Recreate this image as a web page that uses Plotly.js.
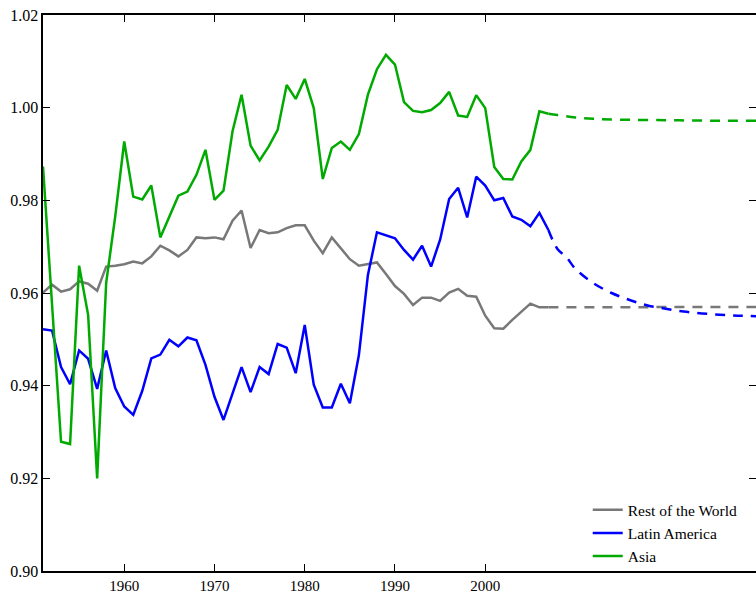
<!DOCTYPE html>
<html>
<head>
<meta charset="utf-8">
<script src="https://cdn.plot.ly/plotly-3.0.1.min.js"></script>
<style>html,body{margin:0;padding:0;background:#fff;}#chart{width:756px;height:592px;}</style>
</head>
<body>
<div id="chart"></div>
<script>
// Observed years 1951..2007
const years = [];
for (let y = 1951; y <= 2007; y++) years.push(y);

const restWorld = [
  0.9601, 0.9618, 0.9603, 0.9608, 0.9625, 0.9620, 0.9605, 0.9657, 0.9659, 0.9662,
  0.9668, 0.9664, 0.9679, 0.9702, 0.9692, 0.9679, 0.9693, 0.9720, 0.9718, 0.9720,
  0.9716, 0.9756, 0.9778, 0.9697, 0.9736, 0.9729, 0.9731, 0.9740, 0.9746, 0.9746,
  0.9713, 0.9686, 0.9720, 0.9697, 0.9673, 0.9659, 0.9663, 0.9666, 0.9641, 0.9615,
  0.9598, 0.9574, 0.9590, 0.9590, 0.9583, 0.9601, 0.9609, 0.9594, 0.9592, 0.9551,
  0.9524, 0.9523, 0.9542, 0.9559, 0.9577, 0.9569, 0.9569
];

const latinAmerica = [
  0.9522, 0.9519, 0.9440, 0.9403, 0.9476, 0.9458, 0.9393, 0.9476, 0.9395, 0.9355,
  0.9337, 0.9389, 0.9459, 0.9467, 0.9499, 0.9485, 0.9504, 0.9498, 0.9445, 0.9376,
  0.9326, 0.9383, 0.9440, 0.9386, 0.9440, 0.9425, 0.9490, 0.9482, 0.9427, 0.9531,
  0.9402, 0.9353, 0.9353, 0.9404, 0.9362, 0.9466, 0.9639, 0.9731, 0.9724, 0.9718,
  0.9693, 0.9672, 0.9702, 0.9657, 0.9715, 0.9803, 0.9827, 0.9763, 0.9851, 0.9832,
  0.9800, 0.9805, 0.9765, 0.9758, 0.9744, 0.9773, 0.9736
];

const asia = [
  0.9873, 0.9584, 0.9279, 0.9274, 0.9659, 0.9553, 0.9200, 0.9622, 0.9765, 0.9927,
  0.9808, 0.9802, 0.9832, 0.9720, 0.9765, 0.9810, 0.9819, 0.9855, 0.9909, 0.9801,
  0.9821, 0.9949, 1.0028, 0.9918, 0.9886, 0.9916, 0.9952, 1.0049, 1.0019, 1.0062,
  0.9999, 0.9846, 0.9913, 0.9927, 0.9909, 0.9943, 1.0028, 1.0083, 1.0114, 1.0093,
  1.0012, 0.9993, 0.9990, 0.9995, 1.0010, 1.0034, 0.9983, 0.9980, 1.0027, 0.9999,
  0.9872, 0.9846, 0.9845, 0.9884, 0.9909, 0.9992, 0.9987
];

// Projections (dashed)
const restWorldProjYears = [2007, 2030];
const restWorldProj = [0.9569, 0.9570];

const latinProjYears = [2007, 2008, 2009, 2010, 2012, 2014, 2016, 2018, 2020, 2022, 2024, 2026, 2028, 2030];
const latinProj = [0.9736, 0.9695, 0.9677, 0.9652, 0.9621, 0.9600, 0.9585, 0.9573, 0.9566, 0.9560, 0.9556, 0.9553, 0.9551, 0.9550];

const asiaProjYears = [2007, 2008, 2010, 2012, 2015, 2020, 2025, 2030];
const asiaProj = [0.9987, 0.9984, 0.9979, 0.9976, 0.9974, 0.9973, 0.9972, 0.9972];

const xTicks = [1960, 1970, 1980, 1990, 2000];
const yTicks = [0.90, 0.92, 0.94, 0.96, 0.98, 1.00, 1.02];

const cGray = 'rgb(120,120,120)';
const cBlue = 'rgb(0,0,255)';
const cGreen = 'rgb(0,170,0)';
const lw = 2.5;

const traces = [
  {x: years, y: restWorld, name: 'Rest of the World', mode: 'lines', line: {color: cGray, width: lw}},
  {x: years, y: latinAmerica, name: 'Latin America', mode: 'lines', line: {color: cBlue, width: lw}},
  {x: years, y: asia, name: 'Asia', mode: 'lines', line: {color: cGreen, width: lw}},
  {x: restWorldProjYears, y: restWorldProj, mode: 'lines', showlegend: false, line: {color: cGray, width: lw, dash: '10px,8px'}},
  {x: latinProjYears, y: latinProj, mode: 'lines', showlegend: false, line: {color: cBlue, width: lw, dash: '10px,8px', shape: 'spline'}},
  {x: asiaProjYears, y: asiaProj, mode: 'lines', showlegend: false, line: {color: cGreen, width: lw, dash: '10px,8px', shape: 'spline'}}
];

const serif = '"Liberation Serif", "Times New Roman", Times, serif';

const layout = {
  width: 756, height: 592,
  margin: {l: 43, r: 0, t: 15, b: 21},
  paper_bgcolor: '#fff', plot_bgcolor: '#fff',
  font: {family: serif, size: 16, color: '#000'},
  showlegend: true,
  legend: {
    x: 0.764, y: -0.004, xanchor: 'left', yanchor: 'bottom',
    bgcolor: 'rgba(255,255,255,0)', borderwidth: 0,
    font: {family: serif, size: 15.5, color: '#000'}, tracegroupgap: 0
  },
  xaxis: {
    range: [1951, 2030], tickvals: xTicks, ticktext: xTicks.map(String),
    ticks: 'inside', ticklen: 7, tickwidth: 1, tickcolor: '#000',
    tickfont: {family: serif, size: 15, color: '#000'},
    showline: true, linecolor: '#000', linewidth: 1.6, mirror: 'ticks',
    showgrid: false, zeroline: false, fixedrange: true
  },
  yaxis: {
    range: [0.90, 1.02], tickvals: yTicks, ticktext: yTicks.map(v => v.toFixed(2)),
    ticks: 'inside', ticklen: 7, tickwidth: 1, tickcolor: '#000',
    tickfont: {family: serif, size: 16, color: '#000'},
    showline: true, linecolor: '#000', linewidth: 1.6, mirror: 'ticks',
    showgrid: false, zeroline: false, fixedrange: true
  }
};

Plotly.newPlot('chart', traces, layout, {displayModeBar: false, staticPlot: true});
</script>
</body>
</html>
